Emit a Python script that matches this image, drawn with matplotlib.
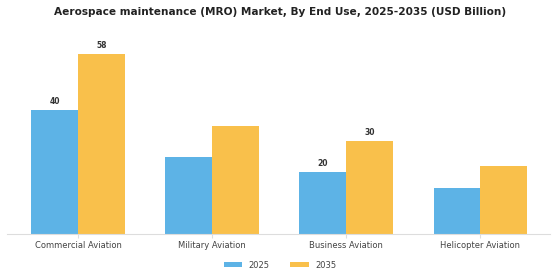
import matplotlib
matplotlib.use("Agg")
import matplotlib.pyplot as plt
import numpy as np

categories = ["Commercial Aviation", "Military Aviation", "Business Aviation", "Helicopter Aviation"]
years = ["2025", "2035"]
values_2025 = [40, 25, 20, 15]
values_2035 = [58, 35, 30, 22]
# only some bars carry a value label in the source chart
labelled_2025 = [True, False, True, False]
labelled_2035 = [True, False, True, False]

blue = "#5db3e6"
yellow = "#f9c04b"

fig = plt.figure(figsize=(5.6, 2.8), dpi=100)
ax = fig.add_axes([0.0125, 0.164, 0.97, 0.6975])

x = np.arange(len(categories))
w = 0.35
b1 = ax.bar(x - w / 2, values_2025, w, color=blue, label=years[0])
b2 = ax.bar(x + w / 2, values_2035, w, color=yellow, label=years[1])

for bars, vals, flags in ((b1, values_2025, labelled_2025), (b2, values_2035, labelled_2035)):
    for r, v, f in zip(bars, vals, flags):
        if f:
            ax.text(r.get_x() + r.get_width() / 2, v + 1.3, str(v), ha="center", va="bottom",
                    fontsize=5.5, fontweight="bold", color="#333333")

ax.set_xlim(-0.53, 3.52)
ax.set_ylim(0, 63)
ax.set_xticks(x)
ax.set_xticklabels(categories, fontsize=6, color="#444444")
ax.set_yticks([])
for s in ("top", "right", "left"):
    ax.spines[s].set_visible(False)
ax.spines["bottom"].set_color("#dddddd")
ax.tick_params(axis="x", length=3, color="#dddddd", pad=2)

fig.suptitle("Aerospace maintenance (MRO) Market, By End Use, 2025-2035 (USD Billion)",
             x=0.5, y=0.975, fontsize=7.6, fontweight="bold", color="#222222")

fig.legend(handles=[b1, b2], labels=years, loc="center", bbox_to_anchor=(0.5, 0.053), ncol=2,
           frameon=False, fontsize=6, handlelength=2.2, handleheight=0.6, columnspacing=2.5,
           labelcolor="#444444")

fig.savefig("out.png", dpi=100)
